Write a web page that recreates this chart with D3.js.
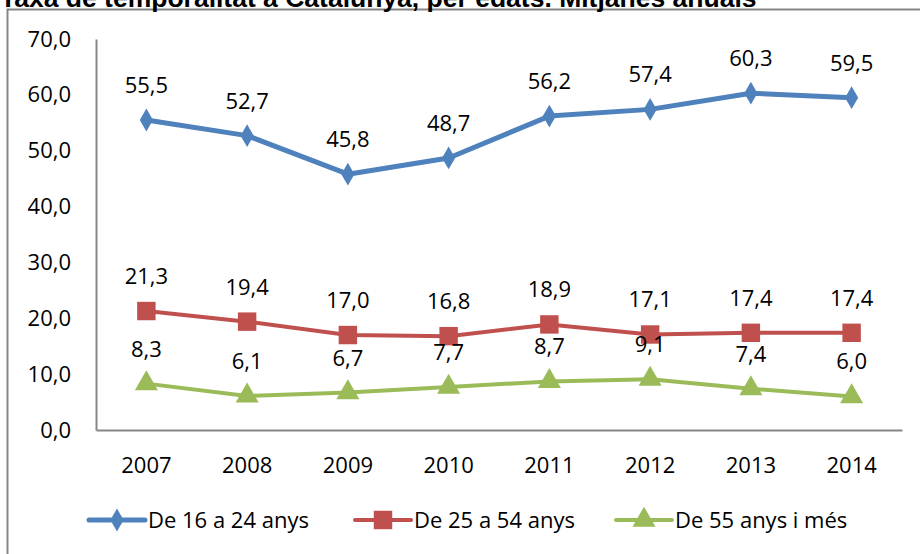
<!DOCTYPE html>
<html>
<head>
<meta charset="utf-8">
<script src="https://cdn.jsdelivr.net/npm/d3@7"></script>
<style>
  body { margin: 0; background: #fff; }
  svg { display: block; }
</style>
</head>
<body>
<script>
const years = ['2007', '2008', '2009', '2010', '2011', '2012', '2013', '2014'];
const young = [55.5, 52.7, 45.8, 48.7, 56.2, 57.4, 60.3, 59.5];
const middle = [21.3, 19.4, 17.0, 16.8, 18.9, 17.1, 17.4, 17.4];
const older = [8.3, 6.1, 6.7, 7.7, 8.7, 9.1, 7.4, 6.0];
const seriesNames = ['De 16 a 24 anys', 'De 25 a 54 anys', 'De 55 anys i més'];
const yTicks = [0, 10, 20, 30, 40, 50, 60, 70];

const width = 920, height = 554;
const fmt = v => v.toFixed(1).replace('.', ',');
const font = "'Open Sans', 'Noto Sans', sans-serif";
const fontSize = 22;

const series = [
  { name: seriesNames[0], values: young, color: '#4f81bd', shape: d3.symbolDiamond, size: 150, stroke: 5 },
  { name: seriesNames[1], values: middle, color: '#c0504d', shape: d3.symbolSquare, size: 340, stroke: 4 },
  { name: seriesNames[2], values: older, color: '#9bbb59', shape: d3.symbolTriangle, size: 230, stroke: 4 }
];

const svg = d3.select('body').append('svg')
  .attr('width', width)
  .attr('height', height);

// outer frame
svg.append('rect')
  .attr('x', 7.5).attr('y', 9.5)
  .attr('width', 920).attr('height', 560)
  .attr('fill', 'none')
  .attr('stroke', '#868686')
  .attr('stroke-width', 2);

// title, clipped at the top like the source
svg.append('text')
  .attr('x', 0).attr('y', 7)
  .attr('font-family', 'Arial, "Liberation Sans", sans-serif')
  .attr('font-weight', 'bold')
  .attr('font-size', 26.5)
  .text('Taxa de temporalitat a Catalunya, per edats. Mitjanes anuals');

const x = d3.scaleBand().domain(years).range([96, 902]);
const y = d3.scaleLinear().domain([0, 70]).range([430, 39]);

// axes
const yAxis = svg.append('g')
  .attr('transform', 'translate(96,0)')
  .call(d3.axisLeft(y).tickValues(yTicks).tickSize(0).tickPadding(25).tickFormat(fmt));
yAxis.select('.domain').attr('stroke', '#868686').attr('stroke-width', 2);
yAxis.selectAll('text')
  .attr('font-family', font).attr('font-size', fontSize).attr('fill', '#000');

const xAxis = svg.append('g')
  .attr('transform', 'translate(0,430)')
  .call(d3.axisBottom(x).tickSize(0).tickPadding(27));
xAxis.select('.domain').attr('stroke', '#868686').attr('stroke-width', 2);
xAxis.selectAll('text')
  .attr('font-family', font).attr('font-size', fontSize).attr('fill', '#000');

const cx = d => x(d) + x.bandwidth() / 2;

const line = d3.line()
  .x((d, i) => cx(years[i]))
  .y(d => y(d));

series.forEach(s => {
  const g = svg.append('g');
  g.append('path')
    .datum(s.values)
    .attr('d', line)
    .attr('fill', 'none')
    .attr('stroke', s.color)
    .attr('stroke-width', s.stroke)
    .attr('stroke-linejoin', 'round');

  g.selectAll('path.mark')
    .data(s.values)
    .join('path')
    .attr('class', 'mark')
    .attr('d', d3.symbol().type(s.shape).size(s.size))
    .attr('transform', (d, i) => `translate(${cx(years[i])},${y(d)})`)
    .attr('fill', s.color);

  g.selectAll('text')
    .data(s.values)
    .join('text')
    .attr('x', (d, i) => cx(years[i]))
    .attr('y', d => y(d) - 27)
    .attr('text-anchor', 'middle')
    .attr('font-family', font)
    .attr('font-size', fontSize)
    .text(fmt);
});

// legend
const legendX = [89, 355, 616];
series.forEach((s, i) => {
  const g = svg.append('g').attr('transform', `translate(${legendX[i]},520)`);
  g.append('line')
    .attr('x1', 0).attr('x2', 56)
    .attr('stroke', s.color)
    .attr('stroke-width', s.stroke)
    .attr('stroke-linecap', 'round');
  g.append('path')
    .attr('d', d3.symbol().type(s.shape).size(s.size))
    .attr('transform', 'translate(28,0)')
    .attr('fill', s.color);
  g.append('text')
    .attr('x', 59).attr('y', 8)
    .attr('font-family', font)
    .attr('font-size', fontSize)
    .text(s.name);
});
</script>
</body>
</html>
